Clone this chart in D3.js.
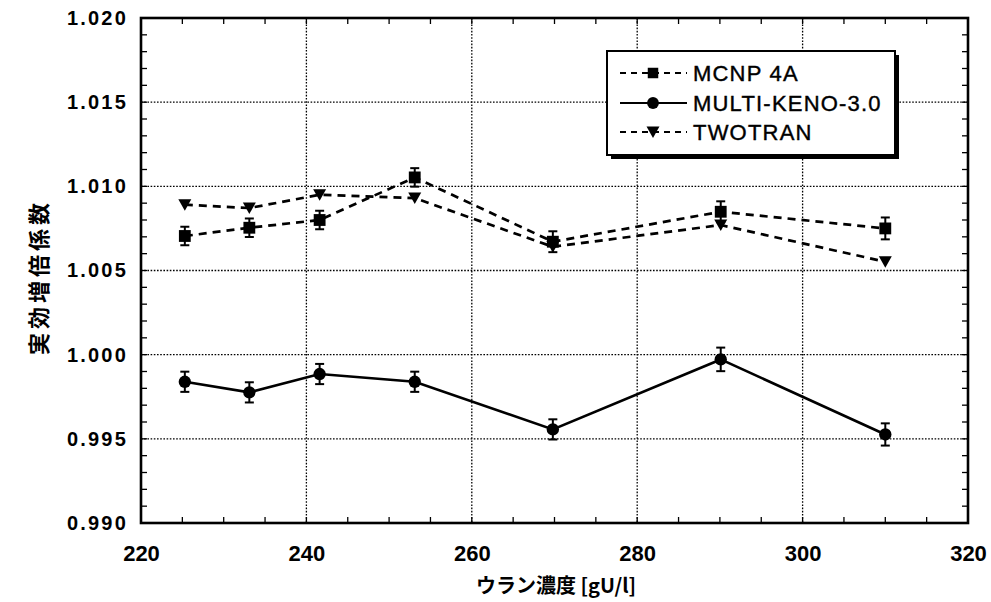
<!DOCTYPE html>
<html><head><meta charset="utf-8">
<script src="https://cdn.jsdelivr.net/npm/d3@7"></script>
<style>body{margin:0;background:#fff}</style>
</head><body>
<svg id="c" width="991" height="602"></svg>
<script>
// ---- data ----
const conc = [225.3, 233.1, 241.6, 253.1, 269.8, 290.1, 310.0];
const mcnp = [1.00705, 1.00754, 1.00800, 1.01053, 1.00671, 1.00849, 1.00750];
const mcnpErr = [0.00055, 0.00055, 0.00055, 0.00055, 0.00062, 0.00062, 0.00065];
const keno = [0.99839, 0.99776, 0.99885, 0.99839, 0.99556, 0.99972, 0.99526];
const kenoErr = [0.00060, 0.00060, 0.00060, 0.00060, 0.00060, 0.00070, 0.00066];
const twotran = [1.00891, 1.00871, 1.00950, 1.00930, 1.00641, 1.00770, 1.00552];
const xTicks = [220, 240, 260, 280, 300, 320];
const yTicks = [0.990, 0.995, 1.000, 1.005, 1.010, 1.015, 1.020];
const seriesNames = ["MCNP 4A", "MULTI-KENO-3.0", "TWOTRAN"];
const xTitle = "ウラン濃度 [gU/l]";
const yTitle = "実効増倍係数";

const W = 991, H = 602;
const m = {l: 141, t: 18, r: 23, b: 79};
const svg = d3.select("#c");
const x = d3.scaleLinear().domain([220, 320]).range([m.l, W - m.r]);
const y = d3.scaleLinear().domain([0.990, 1.020]).range([H - m.b, m.t]);
const pw = W - m.l - m.r, ph = H - m.t - m.b;

// grid
const grid = svg.append("g").attr("stroke", "#000").attr("stroke-width", 1.3).attr("stroke-dasharray", "1.6,1.6");
xTicks.slice(1, -1).forEach(v => grid.append("line").attr("x1", x(v)).attr("x2", x(v)).attr("y1", m.t).attr("y2", H - m.b));
yTicks.slice(1, -1).forEach(v => grid.append("line").attr("y1", y(v)).attr("y2", y(v)).attr("x1", m.l).attr("x2", W - m.r));

// minor ticks (inward)
const tk = svg.append("g").attr("stroke", "#000").attr("stroke-width", 1.3);
d3.range(220, 320.1, 5).forEach(v => {
  tk.append("line").attr("x1", x(v)).attr("x2", x(v)).attr("y1", H - m.b).attr("y2", H - m.b - 6);
  tk.append("line").attr("x1", x(v)).attr("x2", x(v)).attr("y1", m.t).attr("y2", m.t + 6);
});
d3.range(0, 31).forEach(i => {
  const v = 0.990 + i * 0.001;
  tk.append("line").attr("y1", y(v)).attr("y2", y(v)).attr("x1", m.l).attr("x2", m.l + 6);
  tk.append("line").attr("y1", y(v)).attr("y2", y(v)).attr("x1", W - m.r).attr("x2", W - m.r - 6);
});

// axes labels
const ax = svg.append("g").attr("transform", `translate(0,${H - m.b})`)
  .call(d3.axisBottom(x).tickValues(xTicks).tickSize(0).tickPadding(22).tickFormat(d3.format("d")));
ax.select(".domain").remove();
ax.selectAll("text").attr("font-family", "Liberation Sans, Arial, sans-serif").attr("font-weight", "bold").attr("font-size", 22).attr("fill", "#000");
const ay = svg.append("g").attr("transform", `translate(${m.l},0)`)
  .call(d3.axisLeft(y).tickValues(yTicks).tickSize(0).tickPadding(13).tickFormat(d3.format(".3f")));
ay.select(".domain").remove();
ay.selectAll("text").attr("font-family", "Liberation Sans, Arial, sans-serif").attr("font-weight", "bold").attr("font-size", 20).attr("letter-spacing", "2.2px").attr("fill", "#000");

// frame
svg.append("rect").attr("x", m.l).attr("y", m.t).attr("width", pw).attr("height", ph)
  .attr("fill", "none").attr("stroke", "#000").attr("stroke-width", 2.6);

// titles
svg.append("text").attr("x", 556).attr("y", 593).attr("text-anchor", "middle")
  .attr("font-family", "Noto Sans CJK JP, sans-serif").attr("font-weight", "bold").attr("font-size", 20).text(xTitle);
svg.append("text").attr("transform", "translate(37,277) rotate(-90)").attr("text-anchor", "middle")
  .attr("dominant-baseline", "central")
  .attr("font-family", "Noto Sans CJK JP, sans-serif").attr("font-weight", "bold").attr("font-size", 22)
  .attr("letter-spacing", "4px").text(yTitle);

// lines
const line = (arr) => d3.line().x((d, i) => x(conc[i])).y(d => y(d))(arr);
svg.append("path").attr("d", line(mcnp)).attr("fill", "none").attr("stroke", "#000").attr("stroke-width", 2.7).attr("stroke-dasharray", "8,6");
svg.append("path").attr("d", line(twotran)).attr("fill", "none").attr("stroke", "#000").attr("stroke-width", 2.7).attr("stroke-dasharray", "8,6");
svg.append("path").attr("d", line(keno)).attr("fill", "none").attr("stroke", "#000").attr("stroke-width", 2.7);

// error bars
function errBars(vals, errs) {
  const g = svg.append("g").attr("stroke", "#000").attr("stroke-width", 2);
  vals.forEach((v, i) => {
    const cx = x(conc[i]), y1 = y(v + errs[i]), y2 = y(v - errs[i]);
    g.append("line").attr("x1", cx).attr("x2", cx).attr("y1", y1).attr("y2", y2);
    g.append("line").attr("x1", cx - 4.5).attr("x2", cx + 4.5).attr("y1", y1).attr("y2", y1);
    g.append("line").attr("x1", cx - 4.5).attr("x2", cx + 4.5).attr("y1", y2).attr("y2", y2);
  });
}
errBars(mcnp, mcnpErr);
errBars(keno, kenoErr);

// markers
const sq = d3.symbol().type(d3.symbolSquare).size(140);
const ci = d3.symbol().type(d3.symbolCircle).size(120);
const tri = "M-6.5,-5.5 L6.5,-5.5 L0,6 Z";
svg.append("g").selectAll("path").data(mcnp).join("path")
  .attr("d", sq).attr("transform", (d, i) => `translate(${x(conc[i])},${y(d)})`).attr("fill", "#000");
svg.append("g").selectAll("path").data(keno).join("path")
  .attr("d", ci).attr("transform", (d, i) => `translate(${x(conc[i])},${y(d)})`).attr("fill", "#000");
svg.append("g").selectAll("path").data(twotran).join("path")
  .attr("d", tri).attr("transform", (d, i) => `translate(${x(conc[i])},${y(d)})`).attr("fill", "#000");

// legend
const lg = svg.append("g");
lg.append("rect").attr("x", 611).attr("y", 55).attr("width", 288).attr("height", 104).attr("fill", "#000");
lg.append("rect").attr("x", 607).attr("y", 51).attr("width", 288).attr("height", 104).attr("fill", "#fff").attr("stroke", "#000").attr("stroke-width", 2);
const rows = [73, 103, 132];
rows.forEach((ry, k) => {
  const l = lg.append("line").attr("x1", 620).attr("x2", 687).attr("y1", ry).attr("y2", ry)
    .attr("stroke", "#000").attr("stroke-width", 2.2);
  if (k !== 1) l.attr("stroke-dasharray", "6,5");
  const mk = lg.append("path").attr("fill", "#000").attr("transform", `translate(653,${ry})`);
  if (k === 0) mk.attr("d", d3.symbol().type(d3.symbolSquare).size(110)());
  else if (k === 1) mk.attr("d", d3.symbol().type(d3.symbolCircle).size(110)());
  else mk.attr("d", tri);
  lg.append("text").attr("x", 693).attr("y", ry).attr("dominant-baseline", "central")
    .attr("font-family", "Liberation Sans, Arial, sans-serif").attr("font-size", 22).attr("letter-spacing", "1.2px")
    .attr("stroke", "#000").attr("stroke-width", 0.4)
    .text(seriesNames[k]);
});
</script>
</body></html>
